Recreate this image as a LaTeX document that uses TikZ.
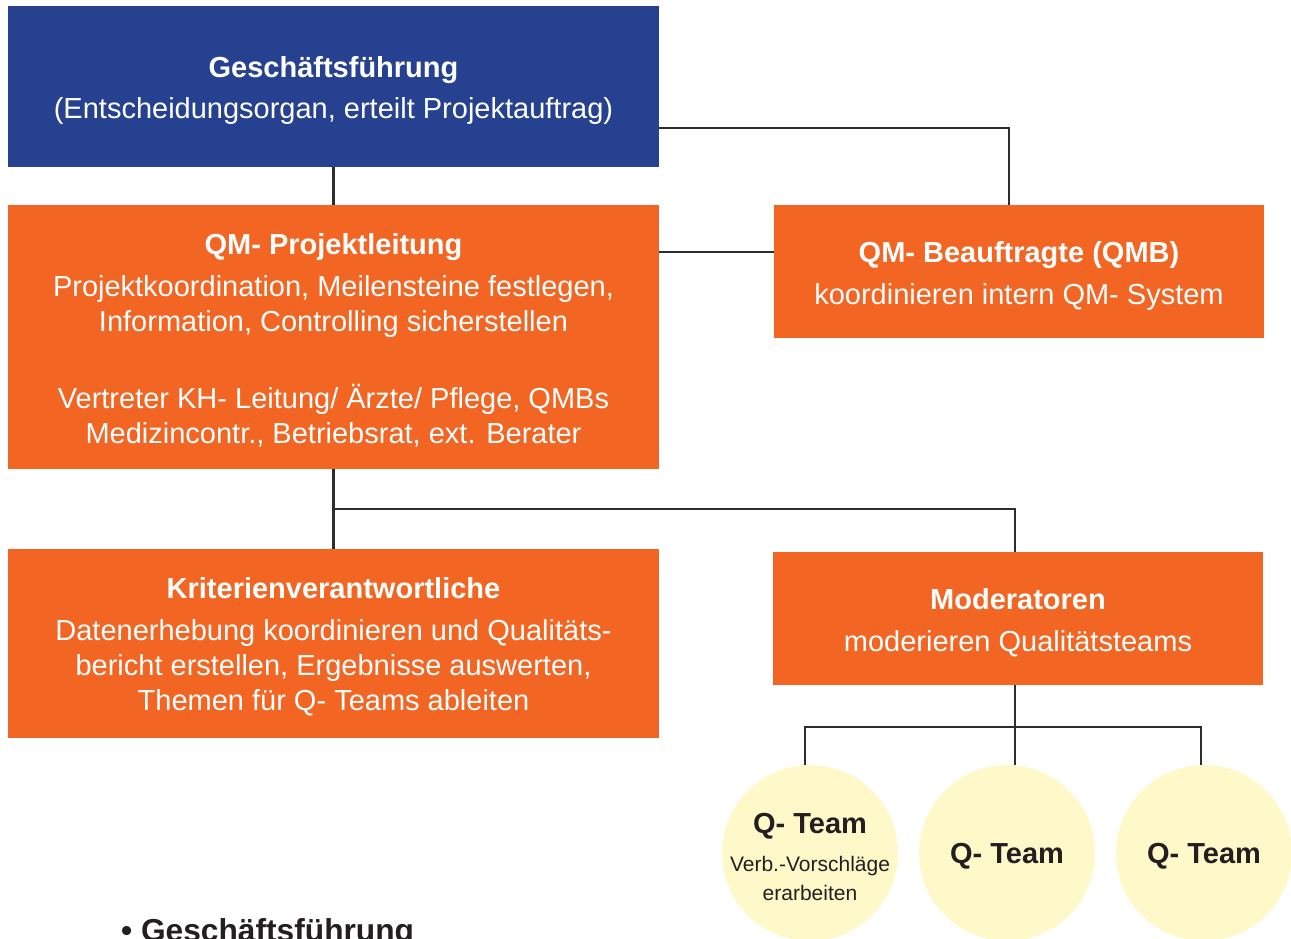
\documentclass[tikz,border=0pt]{standalone}
\usepackage{fontspec}
\setmainfont{Liberation Sans}
\usetikzlibrary{calc}
\definecolor{gfblue}{RGB}{38,65,143}
\definecolor{qmorange}{RGB}{242,101,34}
\definecolor{teamyellow}{RGB}{255,249,202}
\definecolor{linegray}{RGB}{45,45,45}
\definecolor{teamtext}{RGB}{35,31,32}
\begin{document}
\begin{tikzpicture}[x=1pt,y=-1pt,
  box/.style={rectangle, inner sep=0pt},
  boxtext/.style={inner sep=0pt, text=white, align=center,
    font=\fontsize{29}{35}\selectfont},
  team/.style={circle, fill=teamyellow, inner sep=0pt, minimum size=176pt},
  teamtext/.style={inner sep=0pt, align=center, text=teamtext,
    font=\fontsize{29}{35}\selectfont},
  conn/.style={draw=linegray, line width=2.7pt}]
\useasboundingbox (0,0) rectangle (1291,938);

% boxes
\node[box, fill=gfblue, minimum width=651pt, minimum height=161pt] (gf) at (333.5,86.5) {};
\node[boxtext] (gft) at ([yshift=-3.5pt]gf.center)
  {\textbf{Geschäftsführung}\\[6pt](Entscheidungsorgan, erteilt Projektauftrag)};
\node[box, fill=qmorange, minimum width=651pt, minimum height=264pt] (pl) at (333.5,337) {};
\node[boxtext] (plt) at ([yshift=-3pt]pl.center)
  {\textbf{QM- Projektleitung}\\[7pt]Projektkoordination, Meilensteine festlegen,\\Information, Controlling sicherstellen\\[42pt]Vertreter KH- Leitung/ Ärzte/ Pflege, QMBs\\Medizincontr., Betriebsrat, ext. Berater};
\node[box, fill=qmorange, minimum width=490pt, minimum height=133pt] (qmb) at (1019,271.5) {};
\node[boxtext] (qmbt) at ([yshift=-4pt]qmb.center)
  {\textbf{QM- Beauftragte (QMB)}\\[7pt]koordinieren intern QM- System};
\node[box, fill=qmorange, minimum width=651pt, minimum height=189pt] (kr) at (333.5,643.5) {};
\node[boxtext] (krt) at ([yshift=-3.5pt]kr.center)
  {\textbf{Kriterienverantwortliche}\\[7pt]Datenerhebung koordinieren und Qualitäts-\\bericht erstellen, Ergebnisse auswerten,\\Themen für Q- Teams ableiten};
\node[box, fill=qmorange, minimum width=490pt, minimum height=133pt] (mod) at (1018,618.5) {};
\node[boxtext] (modt) at ([yshift=-4pt]mod.center)
  {\textbf{Moderatoren}\\[7pt]moderieren Qualitätsteams};

% teams
\node[team] (q1) at (810,853) {};
\node[teamtext] (q1t) at ([yshift=-4pt]q1.center)
  {\textbf{Q- Team}\\[3pt]{\fontsize{21}{29}\selectfont Verb.-Vorschläge}\\[-6pt]{\fontsize{21}{29}\selectfont erarbeiten}};
\node[team] (q2) at (1007,853) {};
\node[teamtext] (q2t) at ([yshift=-3pt]q2.center) {\textbf{Q- Team}};
\node[team] (q3) at (1204,853) {};
\node[teamtext] (q3t) at ([yshift=-3pt]q3.center) {\textbf{Q- Team}};

% connectors
\draw[conn] (gf.south) -- (pl.north);
\coordinate (g1) at ([yshift=-41.5pt]gf.east);
\draw[conn] (g1) -| ([xshift=-10pt]qmb.north);
\coordinate (p1) at ([yshift=19.5pt]qmb.west);
\draw[conn] (p1) -- (p1 -| pl.east);
\draw[conn] (pl.south) -- (kr.north);
\coordinate (b1) at ($(pl.south)!0.5!(kr.north)$);
\draw[conn] (b1) -| ([xshift=-3pt]mod.north);
\coordinate (m1) at ([xshift=-3pt]mod.south);
\draw[conn] (m1) -- (m1 |- q2.north);
\coordinate (b2) at ($(m1)!0.525!(m1 |- q2.north)$);
\draw[conn] ([xshift=-5pt]q1.north) |- (b2);
\draw[conn] ([xshift=-3pt]q3.north) |- (b2);

% bottom text
\node[anchor=base west, inner sep=0pt, text=teamtext,
  font=\fontsize{31.7}{38}\selectfont\bfseries] (bul) at (121,941) {• Geschäftsführung};
\end{tikzpicture}
\end{document}
